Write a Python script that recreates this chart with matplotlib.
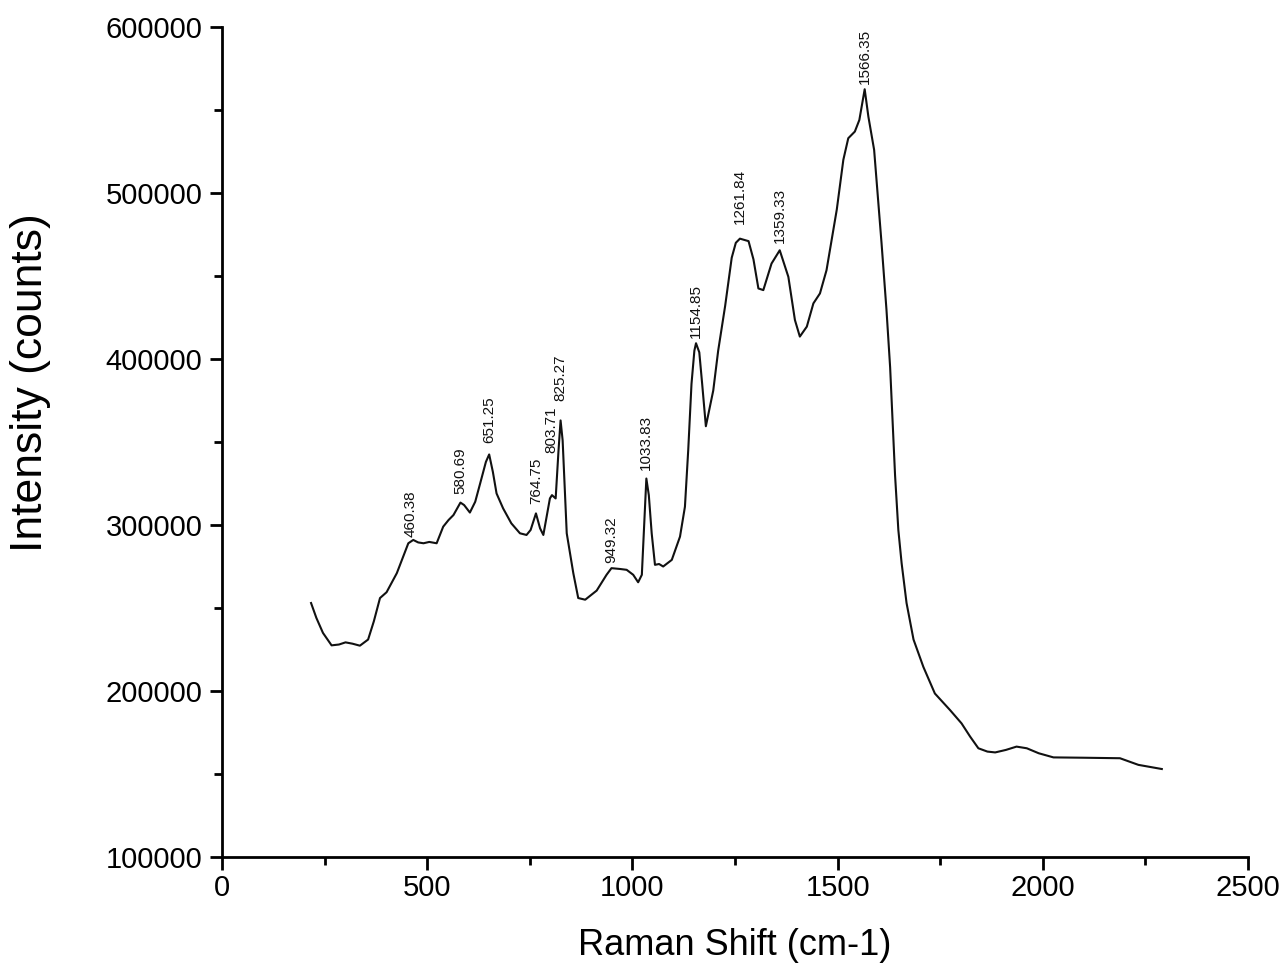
import matplotlib
matplotlib.use("Agg")
import matplotlib.pyplot as plt
import numpy as np
from matplotlib.ticker import MultipleLocator

# Spectrum (Raman shift in cm-1, intensity in counts)
shift = [217, 230, 246, 267, 285, 301, 318, 336, 356, 370, 385, 401, 426, 454, 466,
         478, 491, 505, 523, 539, 552, 564, 581, 590, 604, 617, 629, 643, 651, 660,
         669, 685, 705, 726, 742, 752, 765, 775, 783, 791, 799, 804, 813, 820, 825,
         830, 840, 856, 868, 885, 913, 937, 949, 970, 986, 1002, 1014, 1023, 1034,
         1040, 1047, 1055, 1065, 1075, 1096, 1116, 1128, 1136, 1144, 1151, 1155,
         1163, 1170, 1179, 1197, 1209, 1226, 1242, 1252, 1262, 1283, 1295, 1307,
         1319, 1339, 1359, 1380, 1396, 1408, 1425, 1441, 1457, 1473, 1498, 1514,
         1526, 1542, 1553, 1566, 1575, 1589, 1607, 1619, 1628, 1640, 1648, 1656,
         1668, 1685, 1709, 1737, 1774, 1802, 1823, 1843, 1865, 1884, 1910, 1936,
         1961, 1990, 2026, 2100, 2188, 2233, 2290]
intensity = [253000, 244000, 235000, 227500, 228000, 229300, 228500, 227300, 231000,
             242000, 256000, 259500, 271000, 289000, 291000, 289500, 289000, 289800,
             289000, 299000, 303000, 306000, 313500, 312000, 307500, 314000, 325000,
             338000, 342500, 332000, 319000, 310000, 301000, 295000, 294000, 297000,
             307000, 298000, 294000, 305000, 316000, 318000, 316000, 345000, 363000,
             351000, 295000, 271000, 256000, 255000, 260500, 270000, 274000, 273500,
             273000, 270000, 265500, 270000, 328000, 318000, 295000, 276000, 276500,
             275000, 279000, 293000, 311000, 345000, 385000, 405000, 409500, 404000,
             385000, 359500, 381000, 405000, 432000, 461000, 470000, 472500, 471000,
             460000, 442500, 441500, 457500, 465500, 449500, 423500, 413500, 419500,
             433500, 439500, 453500, 490000, 520000, 533000, 537000, 544000, 562500,
             546000, 526000, 470000, 430000, 395000, 330000, 297000, 277000, 253000,
             231000, 214500, 198500, 188500, 180500, 172500, 165500, 163500, 163000,
             164500, 166500, 165500, 162500, 160000, 159800, 159500, 155500, 153000]

peak_labels = ["460.38", "580.69", "651.25", "764.75", "803.71", "825.27",
               "949.32", "1033.83", "1154.85", "1261.84", "1359.33", "1566.35"]
peak_pos = [float(s) for s in peak_labels]
label_offsets_px = [4, 9, 12, 10, 42, 20, 5, 10, 6, 15, 8, 6]

x_ticks = [0, 500, 1000, 1500, 2000, 2500]
y_ticks = [100000, 200000, 300000, 400000, 500000, 600000]

plt.rcParams['font.family'] = ['Liberation Sans', 'DejaVu Sans']

fig = plt.figure(figsize=(12.87, 9.80), dpi=100)
ax = fig.add_axes([222/1287, 1 - 857/980, (1248-222)/1287, (857-27)/980])

ax.plot(shift, intensity, color='#111111', lw=1.5)

pt = 72/100
for lab, px, off in zip(peak_labels, peak_pos, label_offsets_px):
    yv = np.interp(px, shift, intensity)
    ax.annotate(lab, xy=(px, yv), xytext=(0, off*pt), textcoords='offset points',
                rotation=90, ha='center', va='bottom', fontsize=11, color='#111111')

ax.set_xlim(0, 2500)
ax.set_ylim(100000, 600000)
ax.set_xticks(x_ticks)
ax.set_yticks(y_ticks)
ax.set_xticklabels([str(t) for t in x_ticks])
ax.set_yticklabels([str(t) for t in y_ticks])
ax.xaxis.set_minor_locator(MultipleLocator(250))
ax.yaxis.set_minor_locator(MultipleLocator(50000))

for s in ['top', 'right']:
    ax.spines[s].set_visible(False)
for s in ['left', 'bottom']:
    ax.spines[s].set_linewidth(2.0)
    ax.spines[s].set_color('black')

ax.tick_params(which='major', direction='out', length=9, width=2.0, labelsize=21, pad=5)
ax.tick_params(axis='x', which='major', pad=3)
ax.tick_params(which='minor', direction='out', length=5.5, width=2.0)

ax.set_xlabel("Raman Shift (cm-1)", fontsize=26)
ax.set_ylabel("Intensity (counts)", fontsize=32)
ax.xaxis.set_label_coords(0.5, -0.085)
ax.yaxis.set_label_coords(-0.167, 0.571)

fig.savefig("out.png", dpi=100, facecolor='white')
